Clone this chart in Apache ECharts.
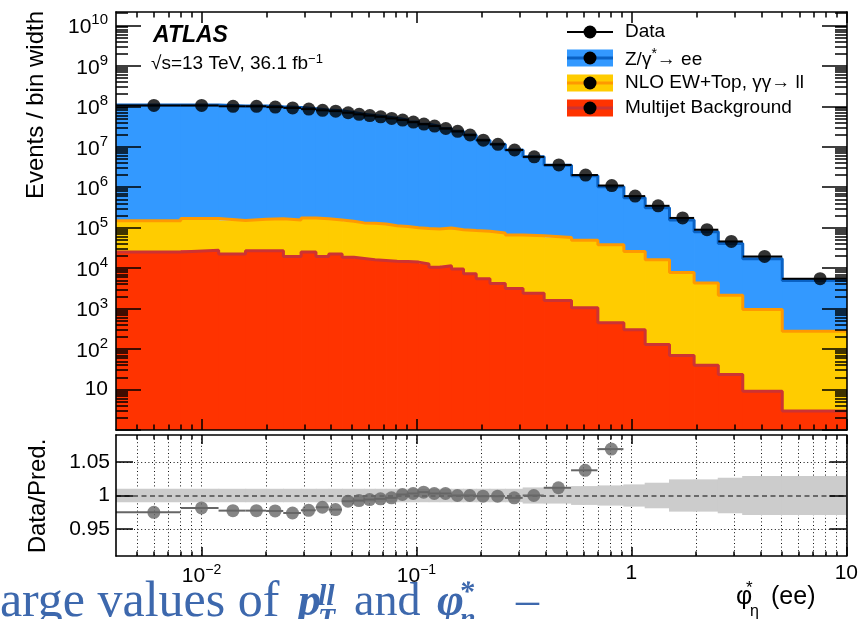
<!DOCTYPE html>
<html>
<head>
<meta charset="utf-8">
<script src="https://cdn.jsdelivr.net/npm/echarts@6/dist/echarts.min.js"></script>
<style>
  html, body { margin: 0; padding: 0; background: #ffffff; }
  #chart { width: 861px; height: 619px; }
</style>
</head>
<body>
<div id="chart"></div>
<script>
// phi*_eta bin edges in the plotted range
const binEdges = [0.004, 0.008, 0.012, 0.016, 0.020, 0.024, 0.029, 0.034, 0.039, 0.045,
  0.051, 0.057, 0.064, 0.072, 0.081, 0.091, 0.102, 0.114, 0.128, 0.145, 0.165, 0.189,
  0.219, 0.258, 0.312, 0.391, 0.524, 0.695, 0.918, 1.153, 1.496, 1.947, 2.522, 3.277,
  5.0, 10.0];

// Events / bin width
const dataEvents = [1.05e8, 1.05e8, 1.00e8, 1.00e8, 9.55e7, 9.12e7, 8.51e7, 7.94e7, 7.59e7,
  6.92e7, 6.31e7, 5.89e7, 5.50e7, 5.01e7, 4.57e7, 4.07e7, 3.63e7, 3.24e7, 2.82e7, 2.40e7,
  1.95e7, 1.45e7, 1.15e7, 8.32e6, 5.62e6, 3.55e6, 2.00e6, 1.10e6, 6.03e5, 3.47e5, 1.74e5,
  8.91e4, 4.57e4, 1.95e4, 5.50e3];

const zeeEvents = [1.075e8, 1.068e8, 1.021e8, 1.021e8, 9.76e7, 9.35e7, 8.68e7, 8.06e7, 7.73e7,
  6.97e7, 6.35e7, 5.92e7, 5.52e7, 5.02e7, 4.55e7, 4.05e7, 3.60e7, 3.22e7, 2.80e7, 2.39e7,
  1.94e7, 1.44e7, 1.14e7, 8.28e6, 5.56e6, 3.45e6, 1.88e6, 9.9e5, 5.22e5, 2.94e5, 1.47e5,
  7.45e4, 3.87e4, 1.60e4, 4.64e3];

const ewTopEvents = [1.23e5, 1.42e5, 1.29e5, 1.35e5, 1.39e5, 1.35e5, 1.49e5, 1.47e5, 1.33e5,
  1.26e5, 1.14e5, 1.13e5, 1.08e5, 9.74e4, 9.27e4, 8.59e4, 8.29e4, 8.28e4, 8.62e4, 7.96e4,
  7.79e4, 7.58e4, 6.99e4, 6.29e4, 6.07e4, 5.59e4, 4.80e4, 3.76e4, 2.54e4, 1.61e4, 7.69e3,
  4.23e3, 2.12e3, 946, 272];

const multijetEvents = [2.51e4, 2.75e4, 2.24e4, 2.69e4, 2.69e4, 1.95e4, 2.51e4, 1.95e4, 2.24e4,
  1.86e4, 1.74e4, 1.62e4, 1.55e4, 1.48e4, 1.45e4, 1.41e4, 1.26e4, 1.05e4, 1.15e4, 9.55e3,
  7.24e3, 5.50e3, 4.17e3, 3.16e3, 2.40e3, 1.58e3, 1.05e3, 447, 302, 129, 69, 40, 23.4, 9.1, 2.95];

// Data / prediction and the relative prediction uncertainty
const ratioValues = [0.975, 0.9815, 0.9775, 0.9775, 0.977, 0.974, 0.978, 0.9825, 0.979, 0.9915,
  0.9925, 0.994, 0.995, 0.9965, 1.0015, 1.003, 1.005, 1.003, 1.003, 1.000, 1.000, 0.999, 0.999,
  0.9965, 1.000, 1.0115, 1.0375, 1.069, 1.10, 1.12, 1.12, 1.13, 1.12, 1.15, 1.12];

const ratioUnc = [0.010, 0.010, 0.010, 0.010, 0.010, 0.010, 0.010, 0.010, 0.010, 0.010, 0.010,
  0.010, 0.010, 0.010, 0.010, 0.010, 0.010, 0.010, 0.010, 0.010, 0.010, 0.010, 0.010, 0.010,
  0.012, 0.012, 0.014, 0.015, 0.0165, 0.019, 0.024, 0.024, 0.0265, 0.029, 0.029];

// Tick labels
const xLabelValues = [0.01, 0.1, 1, 10];
const xLabelTexts = ['{b|10}{s|\u22122}', '{b|10}{s|\u22121}', '{b|1}', '{b|10}'];
const yLabelValues = [10, 1e2, 1e3, 1e4, 1e5, 1e6, 1e7, 1e8, 1e9, 1e10];
const yLabelTexts = ['{b|10}', '{b|10}{s|2}', '{b|10}{s|3}', '{b|10}{s|4}', '{b|10}{s|5}',
  '{b|10}{s|6}', '{b|10}{s|7}', '{b|10}{s|8}', '{b|10}{s|9}', '{b|10}{s|10}'];
const ratioLabelValues = [0.95, 1, 1.05];
const ratioLabelTexts = ['0.95', '1', '1.05'];

const X_MIN = 0.004, X_MAX = 10;
const Y_MIN = 1, Y_MAX = Math.pow(10, 10.33);
const R_MIN = 0.91, R_MAX = 1.09;

const FONT = '"Liberation Sans", Arial, Helvetica, sans-serif';
const SERIF = '"Liberation Serif", "Times New Roman", serif';

const lo = binEdges.slice(0, -1);
const hi = binEdges.slice(1);
const centers = lo.map((l, i) => (l + hi[i]) / 2);

// cumulative stack levels (multijet at the bottom, Z on top)
const mjLevel = multijetEvents.slice();
const ewLevel = multijetEvents.map((v, i) => v + ewTopEvents[i]);
const zLevel = ewLevel.map((v, i) => v + zeeEvents[i]);

// tick positions on log axes: decades and the 2..9 sub-divisions
function decades(a, b) { const r = []; for (let e = a; e <= b; e++) r.push(Math.pow(10, e)); return r; }
function subTicks(a, b, lim0, lim1) {
  const r = [];
  for (let e = a; e <= b; e++) for (let k = 2; k <= 9; k++) {
    const v = k * Math.pow(10, e);
    if (v > lim0 * 1.0001 && v < lim1 * 0.9999) r.push(v);
  }
  return r;
}
const xMajor = decades(-2, 1).filter(v => v > X_MIN && v <= X_MAX);
const xMinor = subTicks(-3, 0, X_MIN, X_MAX);
const yMajor = decades(0, 10);
const yMinor = subTicks(0, 10, Y_MIN, Y_MAX);

function pickLabel(values, texts, v) {
  for (let i = 0; i < values.length; i++) {
    if (Math.abs(values[i] - v) <= 1e-6 * Math.abs(values[i])) return texts[i];
  }
  return '';
}

const black = '#000000';
const tickStyle = { color: black, width: 1.5 };
const frameStyle = { color: black, width: 1.6 };
const dotted = { color: '#111111', width: 1, type: [1, 2.6] };

// log x axis; grid lines sit under the series (z 0), frame and ticks above (z 6)
function xAxisDef(grid, pos, ticks, len, frame, label, split) {
  return {
    type: 'log', logBase: 10, gridIndex: grid, position: pos, min: X_MIN, max: X_MAX,
    z: split ? 0 : 6,
    axisLine: { show: frame, onZero: false, lineStyle: frameStyle },
    axisTick: { show: true, inside: true, length: len, customValues: ticks, lineStyle: tickStyle },
    axisLabel: label || { show: false },
    splitLine: split ? { show: true, lineStyle: dotted } : { show: false },
    minorTick: { show: false }, minorSplitLine: { show: false }
  };
}

const xLabel = {
  show: true, customValues: xLabelValues, margin: 7, hideOverlap: false,
  formatter: v => pickLabel(xLabelValues, xLabelTexts, v),
  rich: {
    b: { fontFamily: FONT, fontSize: 21, color: black, verticalAlign: 'bottom' },
    s: { fontFamily: FONT, fontSize: 14, color: black, verticalAlign: 'bottom', padding: [0, 0, 10, 0] }
  }
};

const yLabel = {
  show: true, customValues: yLabelValues, margin: 8, hideOverlap: false,
  formatter: v => pickLabel(yLabelValues, yLabelTexts, v),
  rich: {
    b: { fontFamily: FONT, fontSize: 21, color: black, verticalAlign: 'bottom' },
    s: { fontFamily: FONT, fontSize: 15, color: black, verticalAlign: 'bottom', padding: [0, 0, 10, 0] }
  }
};

function yLogAxisDef(pos, ticks, len, frame, label) {
  return {
    type: 'log', logBase: 10, gridIndex: 0, position: pos, min: Y_MIN, max: Y_MAX, z: 6,
    axisLine: { show: frame, onZero: false, lineStyle: frameStyle },
    axisTick: { show: true, inside: true, length: len, customValues: ticks, lineStyle: tickStyle },
    axisLabel: label || { show: false },
    splitLine: { show: false }, minorTick: { show: false }
  };
}

function yRatioAxisDef(pos, label) {
  return {
    type: 'value', gridIndex: 1, position: pos, min: R_MIN, max: R_MAX, z: 6,
    axisLine: { show: true, onZero: false, lineStyle: frameStyle },
    axisTick: { show: true, inside: true, length: 17, customValues: ratioLabelValues, lineStyle: tickStyle },
    axisLabel: label || { show: false },
    splitLine: { show: false },
    minorTick: { show: false }
  };
}

// filled stacked histogram component between two cumulative levels
function stackFill(name, lower, upper, fill) {
  return {
    type: 'custom', name: name, xAxisIndex: 0, yAxisIndex: 0, clip: true, z: 2,
    data: upper.map((u, i) => [lo[i], hi[i], lower ? lower[i] : Y_MIN, u]),
    encode: { x: [0, 1], y: [2, 3] },
    renderItem: function (params, api) {
      const pTop = api.coord([api.value(0), api.value(3)]);
      const pBot = api.coord([api.value(1), api.value(2)]);
      return {
        type: 'rect',
        shape: { x: pTop[0], y: pTop[1], width: pBot[0] - pTop[0] + 0.8, height: pBot[1] - pTop[1] },
        style: { fill: fill }
      };
    }
  };
}

// step outline along the top of a histogram component
function stackOutline(name, upper, color) {
  const pts = upper.map((u, i) => [lo[i], u]);
  pts.push([hi[hi.length - 1], upper[upper.length - 1]]);
  return {
    type: 'line', name: name + ' outline', xAxisIndex: 0, yAxisIndex: 0, step: 'end',
    data: pts, showSymbol: false, symbol: 'none', silent: true, z: 2,
    lineStyle: { color: color, width: 3 }
  };
}

// horizontal bin-width bars
function binBars(name, xi, yi, values, color, width, zz) {
  return {
    type: 'custom', name: name, xAxisIndex: xi, yAxisIndex: yi, clip: true, z: zz,
    data: values.map((v, i) => [lo[i], hi[i], v]),
    encode: { x: [0, 1], y: 2 },
    renderItem: function (params, api) {
      const a = api.coord([api.value(0), api.value(2)]);
      const b = api.coord([api.value(1), api.value(2)]);
      return { type: 'line', shape: { x1: a[0], y1: a[1], x2: b[0], y2: b[1] },
        style: { stroke: color, lineWidth: width } };
    }
  };
}

const series = [
  stackFill('Z/\u03b3*\u2192 ee', ewLevel, zLevel, '#3399ff'),
  stackOutline('Z', zLevel, '#0a62c4'),
  stackFill('NLO EW+Top, \u03b3\u03b3\u2192 ll', mjLevel, ewLevel, '#ffcc00'),
  stackOutline('EW', ewLevel, '#ff9900'),
  stackFill('Multijet Background', null, mjLevel, '#ff3300'),
  stackOutline('Multijet', mjLevel, '#cc3333'),
  binBars('Data bins', 0, 0, dataEvents, black, 2, 4),
  {
    type: 'scatter', name: 'Data', xAxisIndex: 0, yAxisIndex: 0, z: 5,
    data: centers.map((c, i) => [c, dataEvents[i]]),
    symbol: 'circle', symbolSize: 13, itemStyle: { color: black }
  },
  // prediction uncertainty band in the ratio panel
  {
    type: 'custom', name: 'Uncertainty', xAxisIndex: 4, yAxisIndex: 4, clip: true, z: 2,
    data: ratioUnc.map((u, i) => [lo[i], hi[i], 1 - u, 1 + u]),
    encode: { x: [0, 1], y: [2, 3] },
    renderItem: function (params, api) {
      const pTop = api.coord([api.value(0), api.value(3)]);
      const pBot = api.coord([api.value(1), api.value(2)]);
      return {
        type: 'rect',
        shape: { x: pTop[0], y: pTop[1], width: pBot[0] - pTop[0] + 0.8, height: pBot[1] - pTop[1] },
        style: { fill: '#cccccc' }
      };
    },
    markLine: {
      silent: true, symbol: 'none', label: { show: false },
      lineStyle: { color: '#6a6a6a', width: 2.2, type: [5, 3.5] },
      data: [{ yAxis: 1 }]
    }
  },
  binBars('Ratio bins', 4, 4, ratioValues, '#666666', 2, 4),
  {
    type: 'scatter', name: 'Data/Pred.', xAxisIndex: 4, yAxisIndex: 4, z: 5, clip: true,
    data: centers.map((c, i) => [c, ratioValues[i]]),
    symbol: 'circle', symbolSize: 13, itemStyle: { color: '#666666' }
  }
];

// legend drawn as graphic entries
const legendItems = [
  { text: 'Data', fill: null, line: black, y: 32 },
  { text: '{t|Z/\u03b3}{u|*}{t|\u2192 ee}', fill: '#3399ff', line: '#0a62c4', y: 58 },
  { text: '{t|NLO EW+Top, \u03b3\u03b3\u2192 ll}', fill: '#ffcc00', line: '#ff9900', y: 83 },
  { text: '{t|Multijet Background}', fill: '#ff3300', line: '#cc3333', y: 108 }
];
const legendGraphics = [];
legendItems.forEach(it => {
  if (it.fill) {
    legendGraphics.push({ type: 'rect', shape: { x: 567, y: it.y - 8.5, width: 46, height: 17 },
      style: { fill: it.fill }, z: 10 });
  }
  legendGraphics.push({ type: 'line', shape: { x1: 567, y1: it.y, x2: 613, y2: it.y },
    style: { stroke: it.line, lineWidth: it.fill ? 3 : 2 }, z: 10 });
  legendGraphics.push({ type: 'circle', shape: { cx: 590, cy: it.y, r: 6.5 },
    style: { fill: black }, z: 11 });
  legendGraphics.push({ type: 'text', x: 625, y: it.y, z: 11,
    style: { text: it.text, font: '19px ' + FONT, fill: black, align: 'left', verticalAlign: 'middle',
      textAlign: 'left', textVerticalAlign: 'middle',
      rich: { t: { fontFamily: FONT, fontSize: 19, color: black, verticalAlign: 'bottom' },
              u: { fontFamily: FONT, fontSize: 14, color: black, verticalAlign: 'bottom', padding: [0, 0, 8, 0] } } } });
});

function txt(x, y, text, font, color, align, extra) {
  return Object.assign({ type: 'text', x: x, y: y, z: 12,
    style: { text: text, font: font, fill: color || black, align: align || 'left', verticalAlign: 'middle',
      textAlign: align || 'left', textVerticalAlign: 'middle' } }, extra || {});
}

const blue = '#3d68ad';
const graphics = legendGraphics.concat([
  txt(153, 36, 'ATLAS', 'italic bold 23px ' + FONT),
  { type: 'text', x: 151, y: 63, z: 12,
    style: { text: '{t|\u221as=13 TeV, 36.1 fb}{u|\u22121}', align: 'left', verticalAlign: 'middle',
      textAlign: 'left', textVerticalAlign: 'middle',
      rich: { t: { fontFamily: FONT, fontSize: 19, color: black, verticalAlign: 'bottom' },
              u: { fontFamily: FONT, fontSize: 13, color: black, verticalAlign: 'bottom', padding: [0, 0, 8, 0] } } } },
  txt(36, 11, 'Events / bin width', '24px ' + FONT, black, 'right', { rotation: Math.PI / 2 }),
  txt(38, 496, 'Data/Pred.', '24px ' + FONT, black, 'center', { rotation: Math.PI / 2 }),
  // x-axis title
  txt(736, 597, '\u03c6', '25px ' + FONT),
  txt(746, 588, '*', '17px ' + FONT),
  txt(750, 612, '\u03b7', '16px ' + FONT),
  txt(771, 597, '(ee)', '25px ' + FONT),
  // slide caption running along the bottom edge
  txt(-14, 603, 'large values of', '50px ' + SERIF, blue),
  txt(298, 603, 'p', 'italic bold 46px ' + SERIF, blue),
  txt(318, 597, 'll', 'italic bold 30px ' + SERIF, blue),
  txt(318, 620, 'T', 'italic bold 28px ' + SERIF, blue),
  txt(354, 603, 'and', '46px ' + SERIF, blue),
  txt(437, 603, '\u03c6', 'italic bold 46px ' + SERIF, blue),
  txt(459, 593, '*', 'italic bold 30px ' + SERIF, blue),
  txt(460, 620, '\u03b7', 'italic bold 28px ' + SERIF, blue),
  txt(516, 603, '\u2013', '46px ' + SERIF, blue)
]);

const option = {
  animation: false,
  backgroundColor: '#ffffff',
  grid: [
    { left: 116, right: 14, top: 12, height: 418, show: false },
    { left: 116, right: 14, top: 435, height: 121, show: false }
  ],
  xAxis: [
    xAxisDef(0, 'bottom', xMajor, 11, true),
    xAxisDef(0, 'bottom', xMinor, 5.5, false),
    xAxisDef(0, 'top', xMajor, 11, true),
    xAxisDef(0, 'top', xMinor, 5.5, false),
    xAxisDef(1, 'bottom', xMajor, 9, true, xLabel, true),
    xAxisDef(1, 'bottom', xMinor, 4.5, false, null, true),
    xAxisDef(1, 'top', xMajor, 9, true),
    xAxisDef(1, 'top', xMinor, 4.5, false)
  ],
  yAxis: [
    yLogAxisDef('left', yMajor, 25, true, yLabel),
    yLogAxisDef('left', yMinor, 12, false),
    yLogAxisDef('right', yMajor, 25, true),
    yLogAxisDef('right', yMinor, 12, false),
    yRatioAxisDef('left', {
      show: true, customValues: ratioLabelValues, margin: 6,
      formatter: v => pickLabel(ratioLabelValues, ratioLabelTexts, v),
      fontFamily: FONT, fontSize: 21, color: black
    }),
    yRatioAxisDef('right'),
    // horizontal dotted grid of the ratio panel, drawn beneath the band
    {
      type: 'value', gridIndex: 1, position: 'left', min: R_MIN, max: R_MAX, z: 0,
      axisLine: { show: false }, axisLabel: { show: false },
      axisTick: { show: false, customValues: ratioLabelValues },
      splitLine: { show: true, lineStyle: dotted }
    }
  ],
  series: series,
  graphic: graphics
};

const chart = echarts.init(document.getElementById('chart'), null, { renderer: 'canvas' });
chart.setOption(option);
</script>
</body>
</html>
